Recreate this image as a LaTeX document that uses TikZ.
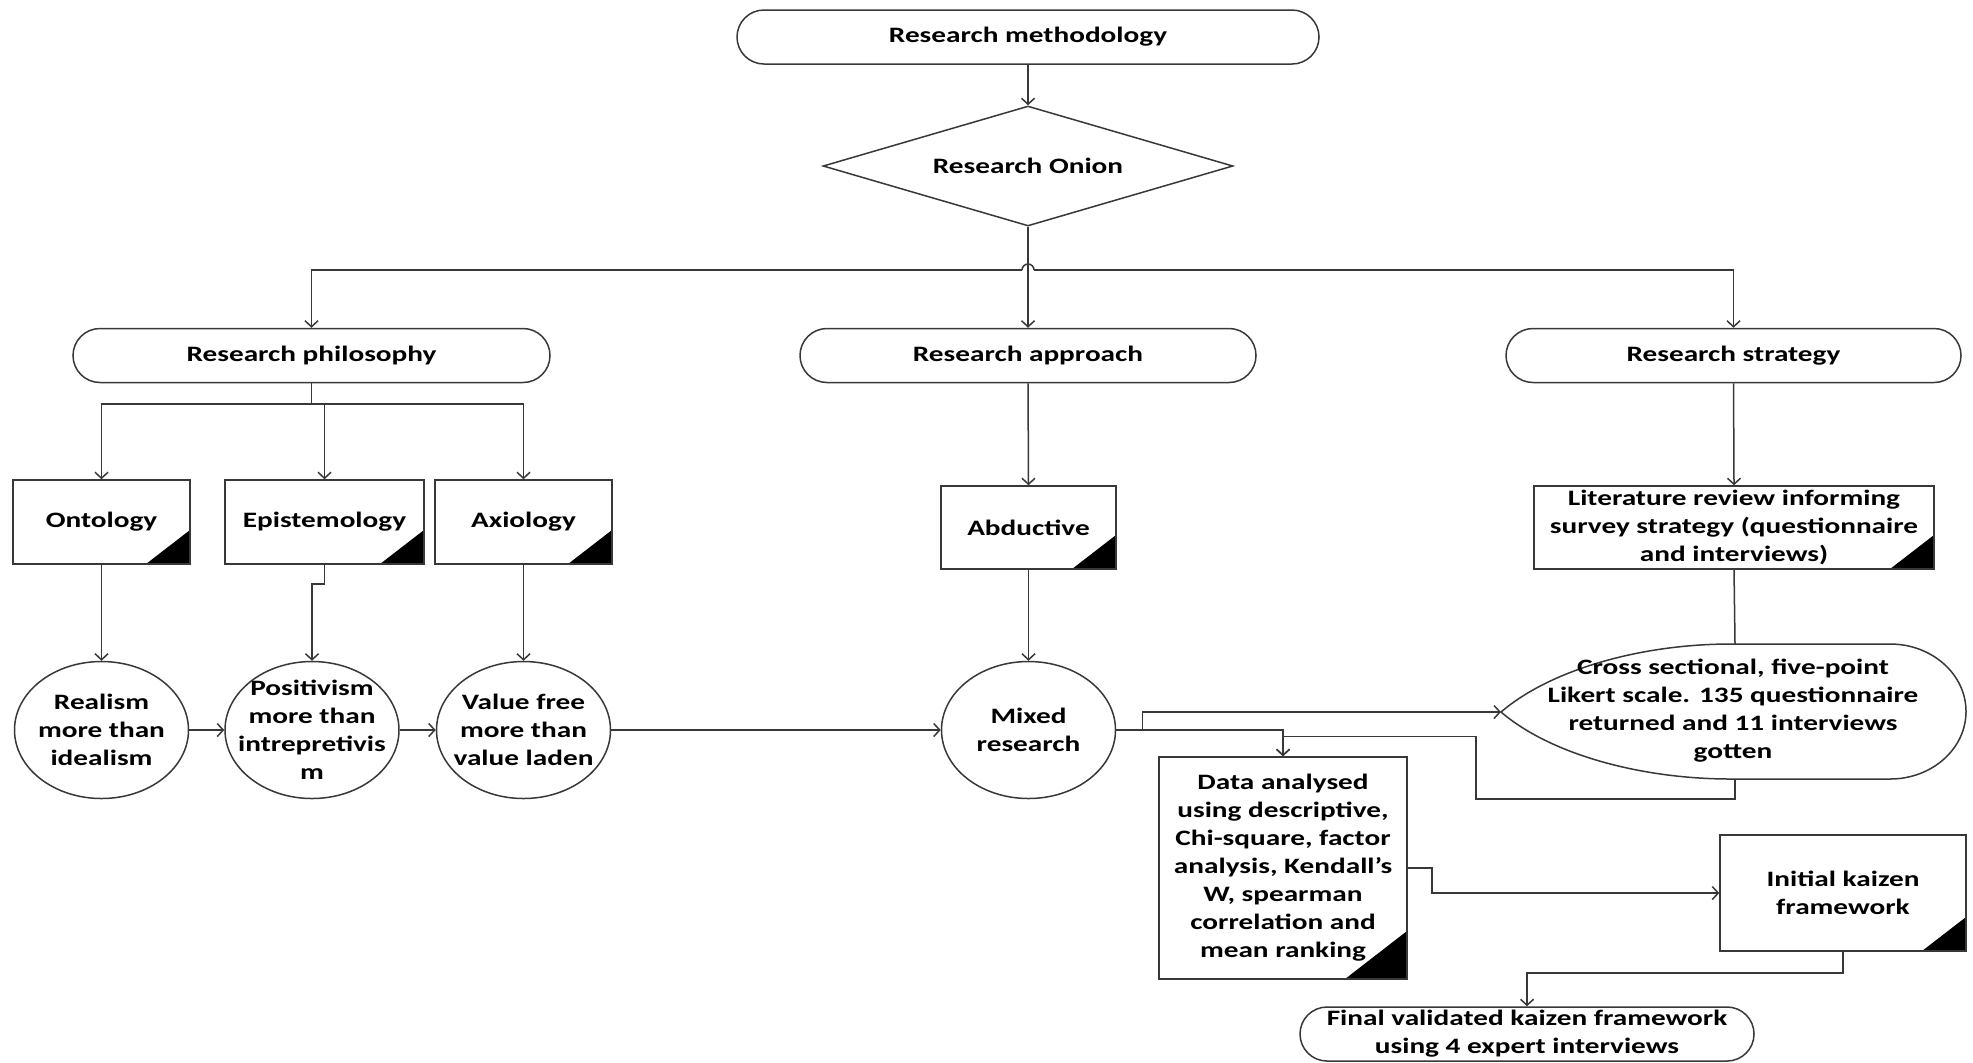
\documentclass[tikz,border=0pt]{standalone}
\usepackage{fontspec}
\setmainfont{Carlito}[FakeStretch=1.33]
\usetikzlibrary{arrows.meta,shapes.geometric}
\begin{document}
\begin{tikzpicture}[x=0.5pt,y=-0.5pt,
  font=\fontsize{11pt}{14pt}\selectfont\bfseries,
  every node/.style={align=center, inner sep=0pt, text=black},
  conn/.style={draw=black!78, line width=0.75pt},
  arr/.style={conn, -{Straight Barb[length=3pt,width=6.5pt]}},
  term/.style={conn, rectangle, rounded corners=13.5pt, fill=white, minimum height=27pt},
  docbox/.style 2 args={conn, rectangle, fill=white,
    path picture={\fill[black] (path picture bounding box.south east) -- ++(-#1,0pt) -- ++(#1,#2) -- cycle;}},
  oval/.style={conn, ellipse, fill=white, minimum width=87pt, minimum height=68.5pt, inner sep=-12pt}
]
\useasboundingbox[fill=white] (0,0) rectangle (1973,1062);

% top of the chart
\node[term, minimum width=291pt] (meth) at (1028,37) {Research methodology};
\node[conn, diamond, fill=white, aspect=3.4, minimum width=205pt, minimum height=60pt] (onion) at (1028,166) {Research Onion};

% the three layers
\node[term, minimum width=238.5pt] (phil) at (311.5,355.5) {Research philosophy};
\node[term, minimum width=228pt] (appr) at (1028,355.5) {Research approach};
\node[term, minimum width=227.5pt] (strat) at (1733.5,355.5) {Research strategy};

% philosophy branch
\node[docbox={22pt}{17pt}, minimum width=88.5pt, minimum height=42pt] (onto) at (101.5,522) {Ontology};
\node[docbox={22pt}{17pt}, minimum width=99.5pt, minimum height=42pt] (epist) at (324.5,522) {Epistemology};
\node[docbox={22pt}{17pt}, minimum width=88.5pt, minimum height=42pt] (axio) at (523.5,522) {Axiology};
\node[oval] (real) at (101.5,730) {Realism\\more than\\idealism};
\node[oval] (posit) at (312,730) {Positivism\\more than\\intrepretivis\\m};
\node[oval] (vfree) at (523.5,730) {Value free\\more than\\value laden};

% approach branch
\node[docbox={22pt}{17pt}, minimum width=87.5pt, minimum height=41.5pt] (abd) at (1028.5,527.5) {Abductive};
\node[oval] (mixed) at (1028.5,730) {Mixed\\research};

% strategy branch
\node[docbox={22pt}{17pt}, minimum width=200pt, minimum height=41.5pt] (lit) at (1734,527.5)
  {Literature review informing\\survey strategy (questionnaire\\and interviews)};
\draw[conn, fill=white] (1501,712) .. controls (1550,670) and (1640,644) .. (1731,644) -- (1890,644)
  arc[start angle=-90, end angle=90, x radius=76, y radius=67.5]
  -- (1731,779) .. controls (1640,779) and (1550,754) .. (1501,712) -- cycle;
\node (cross) at (1733,711) {Cross sectional, five-point\\Likert scale. 135 questionnaire\\returned and 11 interviews\\gotten};
\coordinate (crosstip) at (1501,712);
\coordinate (crosstop) at (1735,644);
\coordinate (crossbot) at (1735,779);

% analysis and framework
\node[docbox={31pt}{24pt}, minimum width=124pt, minimum height=111pt] (data) at (1283,868)
  {Data analysed\\using descriptive,\\Chi-square, factor\\analysis, Kendall’s\\W, spearman\\correlation  and\\mean ranking};
\node[docbox={22pt}{17pt}, minimum width=123pt, minimum height=58pt] (init) at (1843,893) {Initial kaizen\\framework};
\node[term, minimum width=227pt] (final) at (1527,1034) {Final validated kaizen framework\\using 4 expert interviews};

% connectors
\draw[arr] (meth.south) -- (onion.north);
\draw[arr] (onion.south) -- (appr.north);
\coordinate (hub) at (1028,270);
\draw[arr] ([xshift=-3pt]hub) -| (phil.north);
\draw[arr] ([xshift=3pt]hub) -| (strat.north);
\draw[conn] ([xshift=-3pt]hub) arc[start angle=180, end angle=360, radius=6];

\coordinate (pbus) at (311.5,404);
\draw[conn] (phil.south) -- (pbus);
\draw[arr] (pbus) -| (onto.north);
\draw[arr] (pbus) -| (epist.north);
\draw[arr] (pbus) -| (axio.north);

\draw[arr] (onto.south) -- (real.north);
\draw[arr] (epist.south) -- ++(0,19) -| (posit.north);
\draw[arr] (axio.south) -- (vfree.north);
\draw[arr] (real.east) -- (posit.west);
\draw[arr] (posit.east) -- (vfree.west);
\draw[arr] (vfree.east) -- (mixed.west);

\draw[arr] (appr.south) -- (abd.north);
\draw[arr] (abd.south) -- (mixed.north);
\draw[arr] (strat.south) -- (lit.north);
\draw[conn] (lit.south) -- (crosstop);

\draw[arr] (mixed.east) -- ++(26,0) |- (crosstip);
\draw[arr] (mixed.east) -| (data.north);
\draw[arr] (crossbot) -- ++(0,20) -- ++(-259,0) |- ([yshift=10pt]data.north) -- (data.north);
\draw[arr] (data.east) -- ++(24,0) |- (init.west);
\draw[arr] (init.south) -- ++(0,21) -| (final.north);
\end{tikzpicture}
\end{document}
